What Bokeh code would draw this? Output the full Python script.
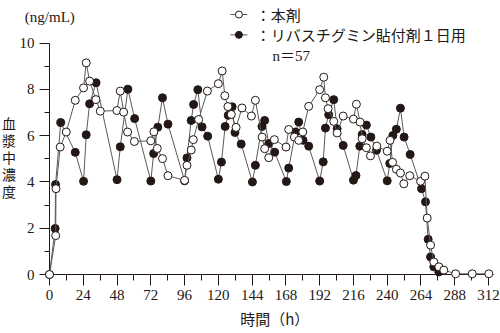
from bokeh.plotting import figure
from bokeh.models import Range1d, FixedTicker
from bokeh.embed import file_html
from bokeh.resources import INLINE
from bokeh.core.properties import value

# ---- data ----
hours_patch = [0, 4.4, 4.6, 7.6, 11.9, 18.3, 24.2, 26.1, 28.5, 33.0, 36.1, 47.9, 50.3, 52.7,
               55.5, 60.3, 72.0, 74.2, 76.6, 80.3, 84.2, 96.0, 97.7, 100.7, 102.2, 106.0,
               112.2, 120.0, 122.7, 124.6, 126.8, 129.2, 132.6, 136.8, 143.5, 146.3, 151.1,
               152.9, 155.8, 159.8, 168.1, 170.0, 174.0, 177.1, 180.0, 184.2, 192.0, 194.9,
               196.1, 198.0, 202.0, 204.4, 208.7, 216.0, 218.1, 220.7, 222.2, 225.2, 228.1,
               232.6, 240.0, 242.0, 243.8, 246.5, 249.4, 251.8, 256.0, 263.7, 266.8, 268.4,
               270.8, 273.1, 276.7, 280.2, 288.6, 300.4, 312.2]
conc_patch = [0, 1.68, 3.71, 5.51, 6.16, 7.53, 8.07, 9.15, 8.36, 7.56, 7.06, 7.09, 7.93, 7.02,
              6.16, 5.75, 5.78, 6.17, 5.45, 5.01, 4.27, 4.07, 4.72, 5.38, 5.83, 6.70,
              7.93, 8.25, 8.80, 7.73, 7.26, 6.92, 6.36, 7.20, 6.85, 7.53, 5.94,
              5.44, 5.05, 5.83, 5.51, 6.27, 5.94, 5.80, 6.16, 7.27, 7.99, 8.53,
              7.64, 7.17, 6.62, 6.12, 6.85, 6.72, 7.36, 6.59, 5.87, 5.48, 5.13,
              5.55, 5.33, 5.80, 4.85, 4.55, 4.39, 3.92, 4.27, 4.03, 4.25, 2.44,
              1.27, 0.54, 0.33, 0.19, 0.03, 0.03, 0.03]

hours_daily = [0, 4.0, 4.3, 8.0, 18.3, 24.2, 26.1, 28.5, 33.1, 48.0, 50.3, 55.7, 60.5, 72.0,
               74.0, 77.0, 80.3, 84.2, 96.0, 97.7, 100.7, 102.4, 105.4, 108.4, 112.4, 120.0,
               122.2, 124.8, 127.0, 129.8, 131.8, 136.2, 144.2, 146.3, 151.0, 152.9, 155.8,
               160.0, 168.3, 170.0, 174.8, 177.1, 180.2, 184.2, 192.0, 194.5, 196.1, 198.4,
               202.0, 204.4, 208.7, 216.0, 217.8, 220.5, 222.2, 225.2, 228.4, 232.4, 240.0,
               241.8, 244.0, 246.5, 249.4, 252.0, 256.3, 264.4, 267.2, 269.1, 270.8, 273.1,
               276.7]
conc_daily = [0, 1.99, 3.89, 6.57, 5.28, 4.03, 6.04, 7.38, 8.29, 4.10, 5.52, 8.01, 6.74, 4.04,
              5.23, 6.37, 7.64, 6.50, 4.05, 5.04, 6.66, 7.35, 7.99, 6.38, 5.98, 4.12,
              4.86, 6.40, 6.88, 7.25, 6.14, 5.64, 4.00, 4.72, 6.40, 6.66, 5.66,
              5.29, 4.02, 4.60, 6.16, 6.59, 5.80, 5.55, 4.04, 4.87, 6.33, 6.91,
              7.56, 6.30, 5.58, 4.08, 4.28, 5.55, 6.05, 6.46, 5.94, 5.37, 4.05,
              4.80, 6.01, 6.28, 7.19, 5.94, 5.19, 3.71, 3.14, 1.52, 0.76, 0.33,
              0.11]

x_ticks = [0, 24, 48, 72, 96, 120, 144, 168, 192, 216, 240, 264, 288, 312]
x_minor = [12, 36, 60, 84, 108, 132, 156, 180, 204, 228, 252, 276, 300]
y_ticks = [0, 2, 4, 6, 8, 10]
y_minor = [1, 3, 5, 7, 9]

label_patch = "：本剤"
label_daily = "：リバスチグミン貼付剤１日用"
n_text = "n＝57"
unit_text = "(ng/mL)"
y_title = ["血", "漿", "中", "濃", "度"]
x_title = "時間（h）"

# ---- styling ----
INK = "#231815"
LINE = "#5a5a5a"
JP = "Noto Sans CJK JP"
SERIF = "Liberation Serif"

p = figure(width=500, height=333, output_backend="svg", toolbar_location=None,
           x_range=Range1d(0, 320.5), y_range=Range1d(0, 11.846),
           min_border_left=49, min_border_right=0, min_border_top=0,
           min_border_bottom=59)
p.grid.visible = False
p.outline_line_color = None
p.background_fill_color = "white"
p.border_fill_color = "white"

for ax in (p.xaxis[0], p.yaxis[0]):
    ax.axis_line_color = INK
    ax.major_tick_line_color = INK
    ax.minor_tick_line_color = INK
    ax.major_tick_in = 0
    ax.minor_tick_in = 0
    ax.major_label_text_font = SERIF
    ax.major_label_text_font_size = "15px"
    ax.major_label_text_color = INK

p.xaxis.ticker = FixedTicker(ticks=x_ticks, minor_ticks=x_minor)
p.yaxis.ticker = FixedTicker(ticks=y_ticks, minor_ticks=y_minor)
p.xaxis.bounds = (0, 315.5)
p.yaxis.bounds = (0, 10)
p.xaxis.major_tick_out = 11
p.xaxis.minor_tick_out = 6
p.yaxis.major_tick_out = 10
p.yaxis.minor_tick_out = 5
p.xaxis.major_label_standoff = 4
p.yaxis.major_label_standoff = 5

# series: daily patch (filled) first, then 本剤 (open) on top
p.line(hours_daily, conc_daily, line_color=LINE, line_width=1, level="overlay")
p.scatter(hours_daily, conc_daily, size=8, fill_color=INK, line_color=INK, line_width=1,
          level="overlay")
p.line(hours_patch, conc_patch, line_color=LINE, line_width=1, level="overlay")
p.scatter(hours_patch, conc_patch, size=8, fill_color="white", line_color=INK, line_width=1,
          level="overlay")

# legend samples
leg_x0, leg_x1, leg_xm = 128.5, 140.6, 134.6
leg_y = [11.24, 10.36]
p.line([leg_x0, leg_x1], [leg_y[0], leg_y[0]], line_color=LINE, line_width=1)
p.scatter([leg_xm], [leg_y[0]], size=7, fill_color="white", line_color=INK)
p.line([leg_x0, leg_x1], [leg_y[1], leg_y[1]], line_color=LINE, line_width=1)
p.scatter([leg_xm], [leg_y[1]], size=7, fill_color=INK, line_color=INK)

def add_text(x, y, txt, font, size="15px", align="left"):
    p.text(x=[x], y=[y], text=[txt], text_font=value(font), text_font_size=size,
           text_color=INK, text_baseline="middle", text_align=align, level="overlay")

add_text(146.5, leg_y[0], label_patch, JP)
add_text(146.5, leg_y[1], label_daily, JP)
add_text(158.5, 9.45, n_text, SERIF + ", " + JP)

# unit and axis titles
add_text(-17.5, 11.13, unit_text, SERIF)
for i, ch in enumerate(y_title):
    add_text(-28.7, 6.54 - i * 0.735, ch, JP, size="14px", align="center")
add_text(135.5, -1.89, x_title, JP)

open("out.html", "w").write(file_html(p, INLINE))
